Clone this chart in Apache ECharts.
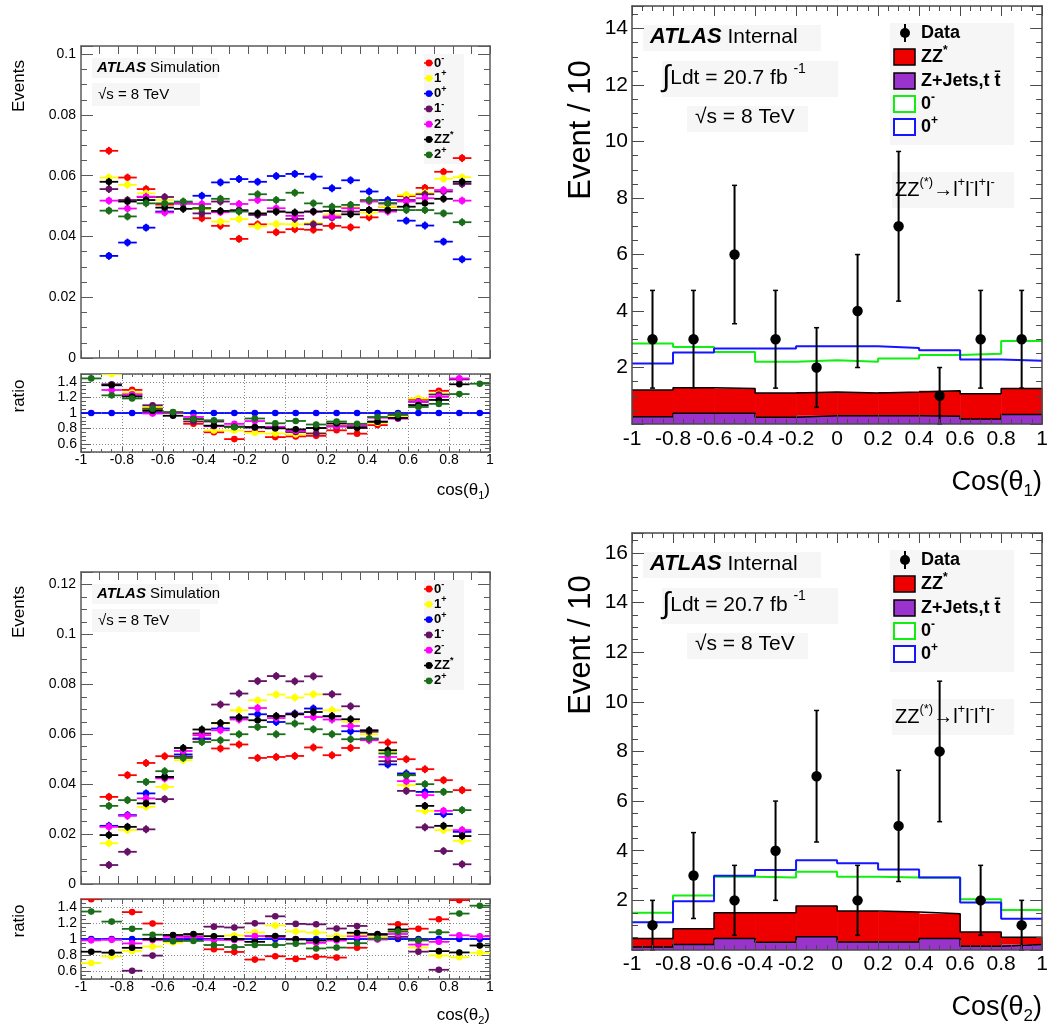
<!DOCTYPE html>
<html><head><meta charset="utf-8"><title>cos theta distributions</title>
<script src="https://cdn.jsdelivr.net/npm/echarts@6.0.0/dist/echarts.min.js"></script>
<style>html,body{margin:0;padding:0;background:#fff;}#chart{width:1051px;height:1034px;}</style>
</head><body><div id="chart"></div>
<script>
// ---------------- binning ----------------
const mcBinCenters = [-0.95,-0.85,-0.75,-0.65,-0.55,-0.45,-0.35,-0.25,-0.15,-0.05,0.05,0.15,0.25,0.35,0.45,0.55,0.65,0.75,0.85,0.95];
const mcBinHalfWidth = 0.05;
const dataBinEdges = [-1,-0.8,-0.6,-0.4,-0.2,0,0.2,0.4,0.6,0.8,1];
const dataBinCenters = [-0.9,-0.7,-0.5,-0.3,-0.1,0.1,0.3,0.5,0.7,0.9];
const dataBinHalfWidth = 0.1;

// legend labels for the simulated hypotheses (legend order)
const hypLabels = ['0{s|-}','1{s|+}','0{s|+}','1{s|-}','2{s|-}','ZZ{s|*}','2{s|+}'];

// ---------------- cos(theta1), simulation shapes ----------------
const th1_0minus = [0.0682,0.0594,0.0556,0.0505,0.0513,0.0460,0.0435,0.0392,0.0440,0.0414,0.0424,0.0422,0.0435,0.0430,0.0463,0.0498,0.0533,0.0560,0.0613,0.0658];
const th1_1plus  = [0.0594,0.0570,0.0542,0.0520,0.0511,0.0490,0.0449,0.0457,0.0433,0.0441,0.0440,0.0444,0.0473,0.0496,0.0479,0.0498,0.0537,0.0544,0.0590,0.0595];
const th1_0plus  = [0.0336,0.0380,0.0429,0.0482,0.0509,0.0534,0.0578,0.0589,0.0580,0.0599,0.0606,0.0597,0.0559,0.0585,0.0548,0.0520,0.0452,0.0436,0.0383,0.0325];
const th1_1minus = [0.0556,0.0520,0.0530,0.0530,0.0509,0.0476,0.0515,0.0487,0.0471,0.0482,0.0458,0.0440,0.0462,0.0482,0.0487,0.0509,0.0520,0.0539,0.0548,0.0573];
const th1_2minus = [0.0518,0.0492,0.0531,0.0479,0.0509,0.0507,0.0480,0.0507,0.0520,0.0493,0.0468,0.0482,0.0466,0.0493,0.0515,0.0482,0.0515,0.0526,0.0553,0.0518];
const th1_ZZ     = [0.0580,0.0515,0.0520,0.0495,0.0491,0.0493,0.0484,0.0484,0.0476,0.0482,0.0479,0.0482,0.0484,0.0473,0.0487,0.0487,0.0498,0.0509,0.0524,0.0580];
const th1_2plus  = [0.0485,0.0466,0.0509,0.0509,0.0515,0.0493,0.0524,0.0482,0.0539,0.0520,0.0544,0.0509,0.0498,0.0504,0.0520,0.0509,0.0487,0.0487,0.0476,0.0447];

// ---------------- cos(theta2), simulation shapes ----------------
const th2_0minus = [0.0349,0.0436,0.0485,0.0512,0.0510,0.0580,0.0543,0.0559,0.0505,0.0509,0.0513,0.0547,0.0516,0.0545,0.0580,0.0567,0.0500,0.0460,0.0416,0.0376];
const th2_1plus  = [0.0163,0.0216,0.0309,0.0389,0.0496,0.0600,0.0643,0.0696,0.0736,0.0759,0.0747,0.0760,0.0696,0.0650,0.0600,0.0530,0.0396,0.0293,0.0216,0.0173];
const th2_0plus  = [0.0233,0.0276,0.0363,0.0429,0.0519,0.0583,0.0623,0.0667,0.0680,0.0649,0.0683,0.0703,0.0672,0.0612,0.0580,0.0479,0.0443,0.0369,0.0280,0.0209];
const th2_1minus = [0.0076,0.0129,0.0219,0.0340,0.0510,0.0603,0.0719,0.0763,0.0813,0.0833,0.0812,0.0832,0.0760,0.0712,0.0610,0.0492,0.0373,0.0227,0.0132,0.0079];
const th2_2minus = [0.0229,0.0273,0.0343,0.0423,0.0533,0.0596,0.0616,0.0659,0.0705,0.0665,0.0680,0.0669,0.0659,0.0633,0.0576,0.0509,0.0412,0.0356,0.0293,0.0216];
const th2_ZZ     = [0.0196,0.0229,0.0323,0.0429,0.0545,0.0619,0.0645,0.0667,0.0656,0.0673,0.0680,0.0689,0.0672,0.0660,0.0616,0.0536,0.0436,0.0313,0.0233,0.0192];
const th2_2plus  = [0.0313,0.0336,0.0409,0.0452,0.0505,0.0569,0.0576,0.0600,0.0629,0.0600,0.0643,0.0620,0.0600,0.0580,0.0583,0.0523,0.0436,0.0400,0.0369,0.0296];

// small statistical error of simulated points
const mcErrTh1 = 0.0013;
const mcErrTh2 = 0.0016;
const ratioErr = 0.035;

// ---------------- data vs expectation, cos(theta1) ----------------
const th1_dataCounts = [3,3,6,3,2,4,7,1,3,3];
const th1_dataErr    = [1.73,1.73,2.45,1.73,1.41,2.0,2.65,1.0,1.73,1.73];
const th1_ZjetsTtbar = [0.26,0.38,0.38,0.24,0.29,0.29,0.29,0.27,0.18,0.34];
const th1_ZZstar     = [0.94,0.90,0.88,0.86,0.84,0.81,0.84,0.91,0.89,0.92];
const th1_total0minus= [2.85,2.73,2.55,2.20,2.26,2.20,2.32,2.44,2.49,2.94];
const th1_total0plus = [2.14,2.53,2.67,2.67,2.75,2.75,2.69,2.61,2.28,2.24];

// ---------------- data vs expectation, cos(theta2) ----------------
const th2_dataCounts = [1,3,2,4,7,2,5,8,2,1];
const th2_dataErr    = [1.0,1.73,1.41,2.0,2.65,1.41,2.24,2.83,1.41,1.0];
const th2_ZjetsTtbar = [0.12,0.22,0.46,0.31,0.53,0.32,0.32,0.46,0.15,0.22];
const th2_ZZstar     = [0.34,0.64,1.04,1.19,1.24,1.25,1.21,1.00,0.58,0.29];
const th2_total0minus= [1.50,2.20,2.95,2.92,3.15,2.95,2.92,2.92,2.04,1.61];
const th2_total0plus = [1.12,1.96,2.99,3.22,3.62,3.49,3.24,2.92,1.91,1.26];

// ---------------- styling ----------------
const FONT = '"Liberation Sans", Arial, Helvetica, sans-serif';
const hypColors = ['#ff0000','#ffff00','#0000ff','#661166','#ff00ff','#000000','#1a6e1a'];
const REF = 2; // ratio denominator: 0+

const grids = [
  {left:81,  top:46,  width:409, height:312},  // 0 cos th1 shapes
  {left:81,  top:374, width:409, height:78},   // 1 cos th1 ratio
  {left:81,  top:572, width:409, height:312},  // 2 cos th2 shapes
  {left:81,  top:899, width:409, height:80},   // 3 cos th2 ratio
  {left:632, top:6,   width:411, height:418},  // 4 data th1
  {left:632, top:533, width:411, height:417}   // 5 data th2
];

function axisPair(gi, dir, cfg) {
  const mk = (primary) => {
    const a = {
      type:'value', gridIndex:gi, min:cfg.min, max:cfg.max,
      position: dir === 'x' ? (primary ? 'bottom' : 'top') : (primary ? 'left' : 'right'),
      axisLine:{show:true, onZero:false, lineStyle:{color:cfg.color, width:cfg.lw}},
      axisTick:{show:true, inside:true, length:cfg.tick, lineStyle:{color:cfg.color, width:1}},
      minorTick:{show:!!cfg.minor, splitNumber:cfg.minor || 5, length:cfg.minorLen || 0, lineStyle:{color:cfg.color, width:1}},
      axisLabel:{show: primary && !!cfg.labels, color:'#000', fontFamily:FONT, fontSize:cfg.fs || 12,
        margin:cfg.margin || 4, showMinLabel: cfg.showMin !== false, showMaxLabel: cfg.showMax !== false, hideOverlap:false},
      splitLine:{show: primary && !!cfg.split, lineStyle:{color:'#8a8a8a', type:[1,2], width:1}},
      z: cfg.z || 0, silent:true
    };
    if (cfg.interval !== undefined) a.interval = cfg.interval;
    if (cfg.splitNumber) a.splitNumber = cfg.splitNumber;
    return a;
  };
  return [mk(true), mk(false)];
}

const LC = '#5a5a5a', RC = '#4a4a4a';
const xCfg = [
  {min:-1.1, max:1.1, interval:0.1, color:LC, lw:1.5, tick:8, labels:false},
  {min:-1, max:1, interval:0.2, color:LC, lw:1.5, tick:5, minor:4, minorLen:3, labels:true, fs:14, margin:1, split:true},
  {min:-1.1, max:1.1, interval:0.1, color:LC, lw:1.5, tick:8, labels:false},
  {min:-1, max:1, interval:0.2, color:LC, lw:1.5, tick:5, minor:4, minorLen:3, labels:true, fs:14, margin:1, split:true},
  {min:-1, max:1, interval:0.2, color:RC, lw:1.5, tick:10, minor:4, minorLen:5, labels:true, fs:21, margin:5, z:10},
  {min:-1, max:1, interval:0.2, color:RC, lw:1.5, tick:10, minor:4, minorLen:5, labels:true, fs:21, margin:4, z:10}
];
const yCfg = [
  {min:0, max:0.1027, interval:0.02, color:LC, lw:1.5, tick:12, minor:4, minorLen:6, labels:true, fs:14, margin:5, showMax:false},
  {min:0.5, max:1.5, splitNumber:5, color:LC, lw:1.5, tick:10, minor:4, minorLen:5, labels:true, fs:14, margin:4, showMin:false, showMax:false, split:true},
  {min:0, max:0.125, interval:0.02, color:LC, lw:1.5, tick:12, minor:4, minorLen:6, labels:true, fs:14, margin:5, showMax:false},
  {min:0.5, max:1.5, splitNumber:5, color:LC, lw:1.5, tick:10, minor:4, minorLen:5, labels:true, fs:14, margin:4, showMin:false, showMax:false, split:true},
  {min:0, max:14.8, interval:2, color:RC, lw:1.5, tick:12, minor:4, minorLen:6, labels:true, fs:21, margin:4, showMin:false, showMax:false, z:10},
  {min:0, max:16.8, interval:2, color:RC, lw:1.5, tick:12, minor:4, minorLen:6, labels:true, fs:21, margin:4, showMin:false, showMax:false, z:10}
];
const xAxes = [], yAxes = [];
for (let g = 0; g < grids.length; g++) {
  xAxes.push(...axisPair(g, 'x', xCfg[g]));
  yAxes.push(...axisPair(g, 'y', yCfg[g]));
}

// ---------------- series ----------------
const series = [];
function pointRenderer(color, err) {
  return function (params, api) {
    const x = api.value(0), y = api.value(1);
    const p = api.coord([x, y]);
    const l = api.coord([x - mcBinHalfWidth, y]);
    const r = api.coord([x + mcBinHalfWidth, y]);
    const t = api.coord([x, y + err]);
    const b = api.coord([x, y - err]);
    return {type:'group', children:[
      {type:'line', shape:{x1:l[0], y1:p[1], x2:r[0], y2:p[1]}, style:{stroke:color, lineWidth:1.8}},
      {type:'line', shape:{x1:p[0], y1:t[1], x2:p[0], y2:b[1]}, style:{stroke:color, lineWidth:1.8}},
      {type:'circle', shape:{cx:p[0], cy:p[1], r:3.3}, style:{fill:color}}
    ]};
  };
}
const th1Sets = [th1_0minus, th1_1plus, th1_0plus, th1_1minus, th1_2minus, th1_ZZ, th1_2plus];
const th2Sets = [th2_0minus, th2_1plus, th2_0plus, th2_1minus, th2_2minus, th2_ZZ, th2_2plus];
[[th1Sets, 0, 1, mcErrTh1, 'th1'], [th2Sets, 2, 3, mcErrTh2, 'th2']].forEach(([sets, gMain, gRatio, err, tag]) => {
  sets.forEach((vals, k) => {
    series.push({
      type:'custom', name: tag + '_' + k, xAxisIndex: 2 * gMain, yAxisIndex: 2 * gMain, clip:true,
      data: mcBinCenters.map((x, i) => [x, vals[i]]),
      renderItem: pointRenderer(hypColors[k], err)
    });
  });
  sets.forEach((vals, k) => {
    const pts = [];
    vals.forEach((v, i) => {
      const r = v / sets[REF][i];
      if (r >= 0.5 && r <= 1.5) pts.push([mcBinCenters[i], r]);
    });
    series.push({
      type:'custom', name: tag + '_ratio_' + k, xAxisIndex: 2 * gRatio, yAxisIndex: 2 * gRatio, clip:true,
      data: pts, renderItem: pointRenderer(hypColors[k], ratioErr)
    });
  });
});

function stepData(vals) {
  const d = vals.map((v, i) => [dataBinEdges[i], v]);
  d.push([dataBinEdges[vals.length], vals[vals.length - 1]]);
  return d;
}
function histRenderer(fill) {
  return function (params, api) {
    const xc = api.value(0), y0 = api.value(1), y1 = api.value(2);
    const a = api.coord([xc - dataBinHalfWidth, y1]);
    const b = api.coord([xc + dataBinHalfWidth, y0]);
    return {type:'rect', shape:{x:a[0], y:a[1], width:b[0] - a[0] + 0.5, height:b[1] - a[1]}, style:{fill:fill}};
  };
}
function dataRenderer(params, api) {
  const x = api.value(0), y = api.value(1), e = api.value(2);
  const p = api.coord([x, y]);
  const t = api.coord([x, y + e]);
  const b = api.coord([x, Math.max(0, y - e)]);
  return {type:'group', children:[
    {type:'line', shape:{x1:p[0], y1:t[1], x2:p[0], y2:b[1]}, style:{stroke:'#000', lineWidth:2}},
    {type:'line', shape:{x1:p[0] - 2.5, y1:t[1], x2:p[0] + 2.5, y2:t[1]}, style:{stroke:'#000', lineWidth:1.5}},
    {type:'line', shape:{x1:p[0] - 2.5, y1:b[1], x2:p[0] + 2.5, y2:b[1]}, style:{stroke:'#000', lineWidth:1.5}},
    {type:'circle', shape:{cx:p[0], cy:p[1], r:5.2}, style:{fill:'#000'}}
  ]};
}
[[4, th1_ZjetsTtbar, th1_ZZstar, th1_total0minus, th1_total0plus, th1_dataCounts, th1_dataErr],
 [5, th2_ZjetsTtbar, th2_ZZstar, th2_total0minus, th2_total0plus, th2_dataCounts, th2_dataErr]]
.forEach(([g, bkg, zz, s0m, s0p, dat, derr]) => {
  const ax = {xAxisIndex: 2 * g, yAxisIndex: 2 * g};
  const stackTop = bkg.map((v, i) => v + zz[i]);
  series.push(Object.assign({type:'custom', name:'Z+Jets,tt fill ' + g, z:2, clip:true,
    data: dataBinCenters.map((x, i) => [x, 0, bkg[i]]), renderItem: histRenderer('#9933cc')}, ax));
  series.push(Object.assign({type:'custom', name:'ZZ* fill ' + g, z:2, clip:true,
    data: dataBinCenters.map((x, i) => [x, bkg[i], stackTop[i]]), renderItem: histRenderer('#ee0000')}, ax));
  series.push(Object.assign({type:'line', name:'Z+Jets,tt ' + g, step:'end', data: stepData(bkg),
    symbol:'none', lineStyle:{color:'#000', width:1.5}, z:3}, ax));
  series.push(Object.assign({type:'line', name:'ZZ* ' + g, step:'end', data: stepData(stackTop),
    symbol:'none', lineStyle:{color:'#000', width:1.5}, z:3}, ax));
  series.push(Object.assign({type:'line', name:'0- ' + g, step:'end', data: stepData(s0m),
    symbol:'none', lineStyle:{color:'#11ee11', width:2}, z:3}, ax));
  series.push(Object.assign({type:'line', name:'0+ ' + g, step:'end', data: stepData(s0p),
    symbol:'none', lineStyle:{color:'#1515ff', width:2}, z:3}, ax));
  series.push(Object.assign({type:'custom', name:'Data ' + g, clip:false, z:5,
    data: dataBinCenters.map((x, i) => [x, dat[i], derr[i]]), renderItem: dataRenderer}, ax));
});

// ---------------- annotations ----------------
const G = [];
function T(x, y, text, font, o) {
  o = o || {};
  const st = {text: text, font: font, fill: o.fill || '#000', align: o.align || 'left', verticalAlign: 'middle'};
  if (o.lh) st.lineHeight = o.lh;
  if (o.rich) st.rich = o.rich;
  G.push({type:'text', x: x, y: y, rotation: o.rot || 0, z: 50, silent: true, style: st});
}
function R(x, y, w, h, fill, stroke, lw, z) {
  G.push({type:'rect', shape:{x:x, y:y, width:w, height:h}, z: z === undefined ? 1 : z, silent:true,
    style:{fill: fill, stroke: stroke || null, lineWidth: lw || 0}});
}
function L(x1, y1, x2, y2, color, lw) {
  G.push({type:'line', shape:{x1:x1, y1:y1, x2:x2, y2:y2}, z:50, silent:true, style:{stroke:color, lineWidth:lw}});
}
function C(cx, cy, r, color) {
  G.push({type:'circle', shape:{cx:cx, cy:cy, r:r}, z:51, silent:true, style:{fill:color}});
}
const boxFill = '#f6f6f6';

// left panels
[46, 572].forEach((gt, idx) => {
  R(92, gt + 12, 126, 20, boxFill);
  R(92, gt + 37, 108, 23, boxFill);
  R(424, gt + 8, 40, 110, boxFill);
  T(97, gt + 22, '{b|ATLAS} Simulation', '15px ' + FONT, {rich:{b:{font:'italic bold 15px ' + FONT}}});
  T(98, gt + 49, '\u221As = 8 TeV', '15px ' + FONT);
  hypLabels.forEach((lab, k) => {
    const y = gt + 17 + 15.3 * k;
    L(424, y, 433, y, hypColors[k], 1.5);
    C(429, y, 3.4, hypColors[k]);
    T(434, y, lab, 'bold 13px ' + FONT, {lh:18, rich:{s:{font:'bold 9px ' + FONT, verticalAlign:'top', lineHeight:9}}});
  });
  const sub = idx === 0 ? '1' : '2';
  const ratioTop = idx === 0 ? 374 : 899;
  T(19, gt + 40, 'Events', '17px ' + FONT, {align:'center', rot:Math.PI / 2});
  T(19, ratioTop + 22, 'ratio', '17px ' + FONT, {align:'center', rot:Math.PI / 2});
  T(490, idx === 0 ? 490 : 1015, 'cos(\u03B8{u|' + sub + '})', '17px ' + FONT,
    {align:'right', lh:22, rich:{u:{font:'11px ' + FONT, verticalAlign:'bottom', lineHeight:9}}});
});

// right panels
[6, 533].forEach((gt, idx) => {
  R(643, gt + 19, 178, 26, boxFill);
  R(662, gt + 55, 176, 36, boxFill);
  R(687, gt + 100, 121, 26, boxFill);
  R(890, gt + 17, 124, 122, boxFill);
  R(892, gt + 166, 122, 36, boxFill);
  T(650, gt + 31, '{b|ATLAS} Internal', '21px ' + FONT, {rich:{b:{font:'italic bold 22px ' + FONT}}});
  T(662, gt + 72, '{i|\u222B}Ldt = 20.7 fb {s|-1}', '21px ' + FONT,
    {lh:32, rich:{i:{font:'30px ' + FONT, lineHeight:32}, s:{font:'14px ' + FONT, verticalAlign:'top', lineHeight:10}}});
  T(695, gt + 111, '\u221As = 8 TeV', '21px ' + FONT);
  T(895, gt + 184, 'ZZ{s|(*)}\u2192l{s|+}l{s|-}l{s|+}l{s|-}', '20px ' + FONT,
    {lh:28, rich:{s:{font:'13px ' + FONT, verticalAlign:'top', lineHeight:10}}});
  // legend
  const lf = 'bold 18px ' + FONT;
  const lr = {s:{font:'bold 12px ' + FONT, verticalAlign:'top', lineHeight:10}};
  L(905, gt + 18, 905, gt + 36, '#000', 2);
  C(905, gt + 27, 5, '#000');
  T(921, gt + 27, 'Data', lf);
  R(894, gt + 43, 21, 16, '#ee0000', '#000', 1.5, 50);
  T(921, gt + 51, 'ZZ{s|*}', lf, {lh:24, rich:lr});
  R(894, gt + 67, 21, 16, '#9933cc', '#000', 1.5, 50);
  T(921, gt + 75, 'Z+Jets,t t\u0304', lf);
  R(894, gt + 90, 21, 16, '#ffffff', '#11ee11', 2, 50);
  T(921, gt + 98, '0{s|-}', lf, {lh:24, rich:lr});
  R(894, gt + 113, 21, 16, '#ffffff', '#1515ff', 2, 50);
  T(921, gt + 121, '0{s|+}', lf, {lh:24, rich:lr});
  // axis titles
  T(581, idx === 0 ? 130 : 645, 'Event / 10', '31px ' + FONT, {align:'center', rot:Math.PI / 2});
  T(1042, idx === 0 ? 483 : 1008, 'Cos(\u03B8{u|' + (idx + 1) + '})', '27px ' + FONT,
    {align:'right', lh:34, rich:{u:{font:'17px ' + FONT, verticalAlign:'bottom', lineHeight:12}}});
});

const chart = echarts.init(document.getElementById('chart'), null, {renderer:'canvas'});
chart.setOption({
  animation:false,
  backgroundColor:'#ffffff',
  grid: grids,
  xAxis: xAxes,
  yAxis: yAxes,
  series: series,
  graphic: {elements: G}
});
</script>
</body></html>
